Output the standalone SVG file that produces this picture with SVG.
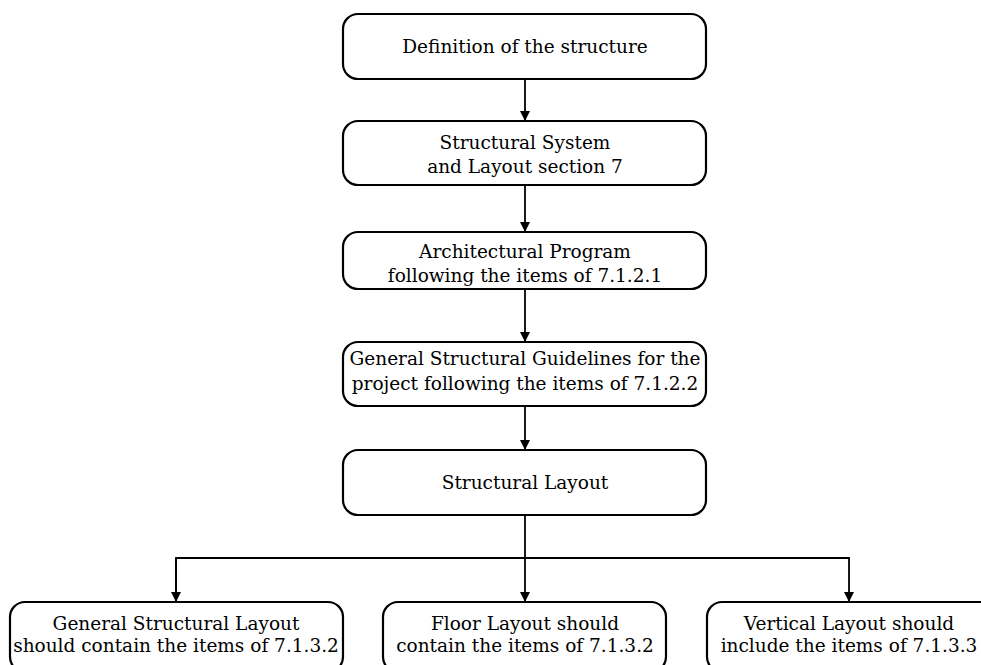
<svg xmlns="http://www.w3.org/2000/svg" width="981" height="665" viewBox="0 0 981 665">
<defs>
<marker id="ah" markerWidth="10" markerHeight="12" refX="9" refY="6" orient="auto" markerUnits="userSpaceOnUse">
<path d="M0,1 L10,6 L0,11 Z" fill="#000"/>
</marker>
<style>
.box{fill:#fff;stroke:#000;stroke-width:2.2}
.t{font-family:"DejaVu Serif","Liberation Serif",serif;font-size:18.5px;fill:#000;text-anchor:middle}
.c{fill:none;stroke:#000;stroke-width:1.8}
</style>
</defs>
<rect width="981" height="665" fill="#fff"/>
<g id="connectors">
<line class="c" x1="525" y1="79" x2="525" y2="120" marker-end="url(#ah)"/>
<line class="c" x1="525" y1="185" x2="525" y2="231" marker-end="url(#ah)"/>
<line class="c" x1="525" y1="289" x2="525" y2="341" marker-end="url(#ah)"/>
<line class="c" x1="525" y1="406" x2="525" y2="449" marker-end="url(#ah)"/>
<line class="c" x1="525" y1="515" x2="525" y2="601" marker-end="url(#ah)"/>
<polyline class="c" points="176,601 176,558 849,558 849,601" marker-end="url(#ah)"/>
<line class="c" x1="176" y1="558" x2="176" y2="601" marker-end="url(#ah)"/>
</g>
<g id="n1"><rect class="box" x="343" y="14" width="363" height="65" rx="15"/><text class="t" x="525" y="53">Definition of the structure</text></g>
<g id="n2"><rect class="box" x="343" y="121" width="363" height="64" rx="15"/><text class="t" x="525" y="149">Structural System</text><text class="t" x="525" y="173">and Layout section 7</text></g>
<g id="n3"><rect class="box" x="343" y="232" width="363" height="57" rx="15"/><text class="t" x="525" y="258">Architectural Program</text><text class="t" x="525" y="282">following the items of 7.1.2.1</text></g>
<g id="n4"><rect class="box" x="343" y="342" width="363" height="64" rx="15"/><text class="t" x="525" y="365">General Structural Guidelines for the</text><text class="t" x="525" y="390">project following the items of 7.1.2.2</text></g>
<g id="n5"><rect class="box" x="343" y="450" width="363" height="65" rx="15"/><text class="t" x="525" y="489">Structural Layout</text></g>
<g id="n6"><rect class="box" x="10" y="602" width="333" height="70" rx="15"/><text class="t" x="176" y="630">General Structural Layout</text><text class="t" x="176" y="652">should contain the items of 7.1.3.2</text></g>
<g id="n7"><rect class="box" x="383" y="602" width="283" height="70" rx="15"/><text class="t" x="525" y="630">Floor Layout should</text><text class="t" x="525" y="652">contain the items of 7.1.3.2</text></g>
<g id="n8"><rect class="box" x="707" y="602" width="290" height="70" rx="15"/><text class="t" x="849" y="630">Vertical Layout should</text><text class="t" x="849" y="652">include the items of 7.1.3.3</text></g>
</svg>
